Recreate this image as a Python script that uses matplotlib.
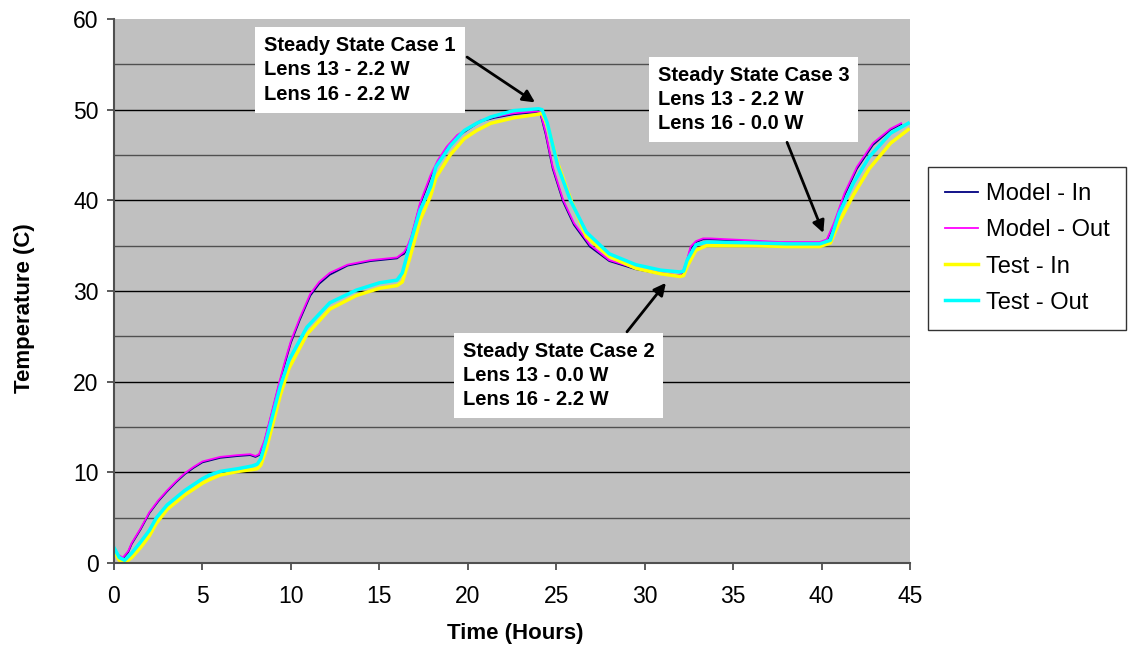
import matplotlib
matplotlib.use("Agg")
import matplotlib.pyplot as plt
import numpy as np

plt.rcParams['font.family'] = ['Liberation Sans', 'DejaVu Sans']

# model curves (hours, deg C)
t_model = [0, 0.25, 0.5, 0.8, 1.0, 1.5, 2.0, 2.5, 3.0, 3.5, 4.0, 4.5, 5.0, 6.0, 7.0, 7.7,
           8.0, 8.2, 8.5, 8.9, 9.3, 9.7, 10.0, 10.5, 11.1, 11.6, 12.2, 13.2, 14.5, 15.5,
           16.0, 16.2, 16.4, 16.6, 16.8, 17.3, 17.9, 18.3, 18.8, 19.4, 20.0, 20.7, 21.5,
           22.6, 23.4, 23.9, 24.1, 24.4, 24.8, 25.4, 26.0, 26.9, 28.0, 29.5, 30.9, 31.8,
           32.0, 32.2, 32.4, 32.6, 32.9, 33.3, 33.7, 35.8, 37.6, 39.0, 39.9, 40.3, 40.7,
           41.3, 42.0, 42.9, 43.9, 44.5]
model_out = [1.5, 0.9, 0.6, 1.3, 2.2, 3.8, 5.6, 6.9, 8.0, 9.0, 9.9, 10.6, 11.2, 11.7, 11.9, 12.0,
             11.8, 12.0, 13.5, 16.5, 19.6, 22.5, 24.5, 27.0, 29.7, 31.0, 32.0, 32.9, 33.4, 33.6,
             33.7, 34.0, 34.3, 35.0, 36.0, 39.7, 42.8, 44.4, 45.9, 47.2, 47.9, 48.8, 49.2,
             49.6, 49.75, 49.8, 49.7, 47.5, 43.7, 40.0, 37.5, 35.1, 33.4, 32.5, 32.0, 31.75,
             31.8, 32.3, 33.5, 34.9, 35.5, 35.8, 35.8, 35.6, 35.4, 35.4, 35.4, 35.7, 37.5,
             40.8, 43.7, 46.3, 47.9, 48.5]
model_in = [1.4, 0.8, 0.5, 1.2, 2.1, 3.7, 5.5, 6.8, 7.9, 8.9, 9.8, 10.5, 11.1, 11.6, 11.8, 11.9,
            11.7, 11.9, 13.3, 16.3, 19.4, 22.3, 24.3, 26.8, 29.5, 30.8, 31.8, 32.8, 33.3, 33.5,
            33.6, 33.9, 34.1, 34.8, 35.8, 39.5, 42.6, 44.2, 45.7, 47.0, 47.8, 48.7, 49.1,
            49.5, 49.65, 49.7, 49.6, 47.3, 43.5, 39.8, 37.3, 34.9, 33.3, 32.4, 31.9, 31.65,
            31.7, 32.2, 33.3, 34.7, 35.4, 35.7, 35.7, 35.5, 35.3, 35.3, 35.3, 35.6, 37.3,
            40.6, 43.5, 46.1, 47.8, 48.4]

# test curves
t_test = [0, 0.3, 0.6, 1.0, 1.5, 2.0, 2.4, 3.0, 4.0, 5.0, 5.4, 6.0, 7.0, 7.8, 8.1, 8.3, 8.6,
          9.0, 9.4, 9.9, 10.9, 12.2, 13.7, 15.0, 16.0, 16.3, 16.7, 17.3, 17.9, 18.2, 19.0,
          19.8, 20.5, 21.3, 22.6, 24.0, 24.2, 24.5, 25.1, 25.8, 26.7, 28.0, 29.5, 30.9,
          32.0, 32.2, 32.4, 32.9, 33.5, 36.3, 38.0, 39.9, 40.5, 41.0, 41.8, 42.7, 43.9, 44.9]
test_out = [1.7, 0.6, 0.3, 1.1, 2.3, 3.6, 5.0, 6.4, 8.0, 9.3, 9.7, 10.1, 10.4, 10.7, 10.9, 11.5,
            13.5, 16.5, 19.5, 22.4, 26.0, 28.7, 30.1, 30.9, 31.2, 32.0, 34.9, 38.9, 41.5, 43.7,
            46.0, 47.7, 48.5, 49.2, 49.9, 50.1, 50.0, 48.5, 43.7, 40.0, 36.5, 34.1, 32.9, 32.3,
            32.1, 32.2, 33.4, 35.1, 35.4, 35.3, 35.2, 35.2, 35.6, 38.6, 41.9, 44.8, 47.4, 48.5]
test_in = [1.3, 0.3, 0.0, 0.6, 1.7, 3.0, 4.4, 5.9, 7.5, 8.8, 9.2, 9.7, 10.1, 10.3, 10.4, 10.8,
           12.5, 15.5, 18.5, 21.5, 25.2, 28.0, 29.5, 30.3, 30.6, 31.0, 33.5, 37.8, 40.5, 42.5,
           45.0, 46.8, 47.7, 48.5, 49.1, 49.5, 49.6, 48.3, 44.0, 40.2, 36.0, 33.8, 32.5, 31.9,
           31.6, 31.7, 32.7, 34.5, 35.0, 35.0, 34.9, 34.9, 35.3, 37.6, 40.6, 43.5, 46.3, 47.8]

x_ticks = [0, 5, 10, 15, 20, 25, 30, 35, 40, 45]
y_ticks = [0, 10, 20, 30, 40, 50, 60]

notes = ["Steady State Case 1\nLens 13 - 2.2 W\nLens 16 - 2.2 W",
         "Steady State Case 2\nLens 13 - 0.0 W\nLens 16 - 2.2 W",
         "Steady State Case 3\nLens 13 - 2.2 W\nLens 16 - 0.0 W"]
note_xy = [(13.9, 54.4), (25.13, 20.68), (36.15, 51.12)]
arrow_tail = [(19.96, 55.8), (29.0, 25.5), (38.05, 46.4)]
arrow_head = [(23.8, 50.8), (31.2, 30.9), (40.1, 36.4)]

fig = plt.figure(figsize=(11.28, 6.51), dpi=100)
ax = fig.add_axes([114/1128, 1 - 563/651, 796/1128, 544/651])
ax.set_facecolor('#c0c0c0')

for g in [5, 15, 25, 35, 45, 55]:
    ax.axhline(g, color='#505050', lw=1.0, zorder=1)
for g in [10, 20, 30, 40, 50]:
    ax.axhline(g, color='black', lw=1.0, zorder=1)

ax.plot(t_model, model_in, color='#000080', lw=1.3, label='Model - In', zorder=3)
ax.plot(t_model, model_out, color='#ff00ff', lw=1.3, label='Model - Out', zorder=3)
ax.plot(t_test, test_in, color='#ffff00', lw=2.5, label='Test - In', zorder=3)
ax.plot(t_test, test_out, color='#00ffff', lw=2.5, label='Test - Out', zorder=3)

ax.set_xlim(0, 45)
ax.set_ylim(0, 60)
ax.set_xticks(x_ticks)
ax.set_yticks(y_ticks)
ax.tick_params(axis='both', direction='out', length=5, width=1.2, color='#404040',
               labelsize=16.5)
ax.tick_params(axis='y', pad=6)
ax.tick_params(axis='x', pad=11)
for s in ['top', 'right']:
    ax.spines[s].set_visible(False)
for s in ['left', 'bottom']:
    ax.spines[s].set_color('#505050')
    ax.spines[s].set_linewidth(1.5)
    ax.spines[s].set_zorder(4)

ax.set_xlabel('Time (Hours)', fontsize=16, fontweight='bold', va='center', ha='center')
ax.set_ylabel('Temperature (C)', fontsize=16, fontweight='bold', va='center', ha='center')
ax.xaxis.set_label_coords((515 - 114) / 796, (563 - 634) / 544)
ax.yaxis.set_label_coords((25 - 114) / 796, (563 - 308) / 544)

for txt, pos, tail, head in zip(notes, note_xy, arrow_tail, arrow_head):
    ax.text(pos[0], pos[1], txt, fontsize=14.5, fontweight='bold', ha='center', va='center',
            multialignment='left', linespacing=1.35, zorder=5,
            bbox=dict(boxstyle='square,pad=0.45', facecolor='white', edgecolor='none'))
    ax.annotate('', xy=head, xytext=tail, zorder=6,
                arrowprops=dict(arrowstyle='-|>', color='black', lw=2.0,
                                mutation_scale=18, shrinkA=0, shrinkB=0))

leg = ax.legend(loc='center left', bbox_to_anchor=(928/1128, 1 - 248.5/651),
                bbox_transform=fig.transFigure, borderaxespad=0, fontsize=17,
                frameon=True, fancybox=False, edgecolor='black', handlelength=1.4,
                labelspacing=0.6, borderpad=0.7, handletextpad=0.35)
leg.get_frame().set_linewidth(1.0)

fig.savefig('out.png', dpi=100)
